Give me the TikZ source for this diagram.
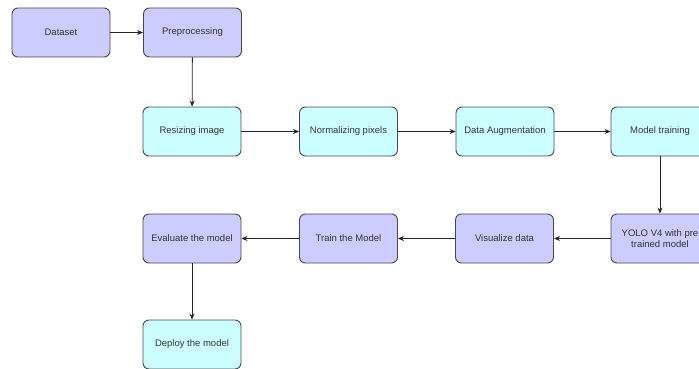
\documentclass[tikz,border=0pt]{standalone}
\usepackage{fontspec}
\setmainfont{Liberation Sans}
\usepackage{xcolor}
\definecolor{flowpurple}{RGB}{204, 204, 255}
\definecolor{flowcyan}{RGB}{204, 255, 255}
\definecolor{flowedge}{RGB}{70, 72, 76}
\usetikzlibrary{arrows.meta}

\begin{document}
\begin{tikzpicture}[x=1pt, y=-1pt, >={Stealth[length=6pt, width=5pt]},
    font=\fontsize{9.5}{11.5}\selectfont,
    stage/.style={rectangle, rounded corners=6pt, draw=flowedge, line width=0.9pt,
        minimum width=98pt, minimum height=49pt, align=center, text=black!80, inner sep=2pt},
    plain stage/.style={stage, fill=flowpurple},
    data stage/.style={stage, fill=flowcyan},
    link/.style={->, line width=0.8pt, draw=black!85}
]
\useasboundingbox (0, 0) rectangle (699, 369);

% === Fila 1: origen de los datos ===
\node[plain stage] (dataset) at (61, 32.5) {Dataset};
\node[plain stage] (prep) at (192.5, 32.5) {Preprocessing};

% === Fila 2: preparacion de imagenes ===
\node[data stage] (resize) at (192, 131.5) {Resizing image};
\node[data stage] (norm) at (348.5, 131.5) {Normalizing pixels};
\node[data stage] (augment) at (505, 131.5) {Data Augmentation};
\node[data stage] (training) at (660, 131.5) {Model training};

% === Fila 3: modelo ===
\node[plain stage] (yolo) at (660, 238.5) {YOLO V4 with pre\\trained model};
\node[plain stage] (visual) at (504.5, 238.5) {Visualize data};
\node[plain stage] (train) at (348.5, 238.5) {Train the Model};
\node[plain stage] (evaluate) at (192, 238.5) {Evaluate the model};

% === Fila 4: despliegue ===
\node[data stage] (deploy) at (192, 344.5) {Deploy the model};

% Conexiones
\draw[link] (dataset) -- (prep);
\draw[link] (prep) -- (resize);
\draw[link] (resize) -- (norm);
\draw[link] (norm) -- (augment);
\draw[link] (augment) -- (training);
\draw[link] (training) -- (yolo);
\draw[link] (yolo) -- (visual);
\draw[link] (visual) -- (train);
\draw[link] (train) -- (evaluate);
\draw[link] (evaluate) -- (deploy);

\end{tikzpicture}
\end{document}
